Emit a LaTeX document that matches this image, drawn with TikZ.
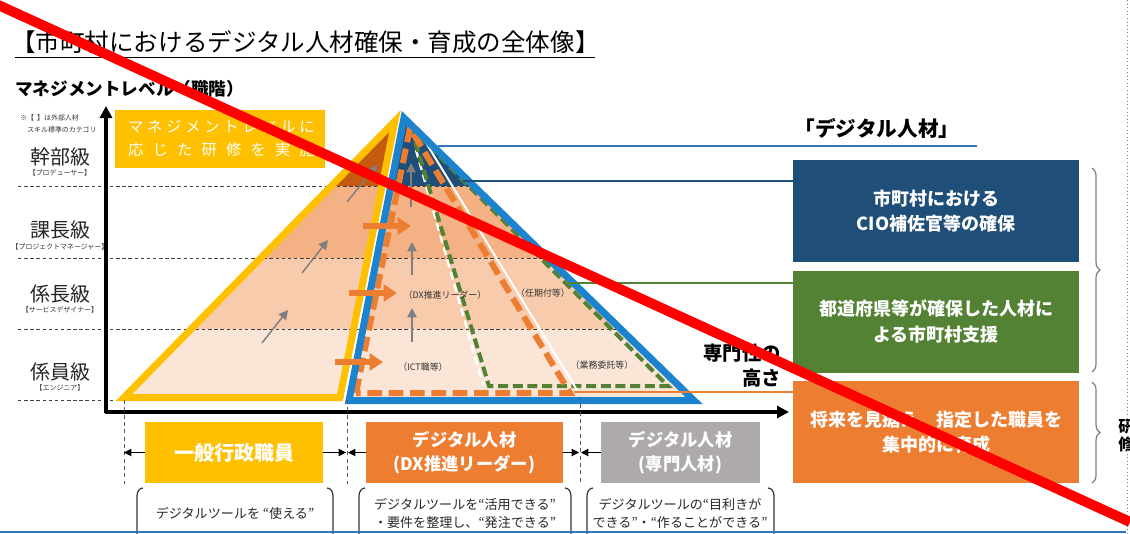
\documentclass[tikz,border=0pt]{standalone}
\usepackage{fontspec}
\setmainfont{Noto Sans CJK JP}
\usetikzlibrary{arrows.meta,decorations.pathreplacing}
\definecolor{cyel}{HTML}{FFC000}
\definecolor{corg}{HTML}{ED7D31}
\definecolor{cnavy}{HTML}{1F4E79}
\definecolor{cgreen}{HTML}{548235}
\definecolor{cgray}{HTML}{AEAAAA}
\definecolor{cblue}{HTML}{1C84CF}
\definecolor{cline}{HTML}{2E75B6}
\definecolor{cdark}{HTML}{C55A11}
\definecolor{cbandA}{HTML}{F4B183}
\definecolor{cbandB}{HTML}{F8CBAD}
\definecolor{cbandC}{HTML}{FBE5D6}
\definecolor{garr}{HTML}{7F7F7F}
\begin{document}
\begin{tikzpicture}[x=0.75pt,y=-0.75pt,
  lvl/.style={font=\fontsize{15}{18}\selectfont, text=black!85, inner sep=0pt},
  sublbl/.style={font=\fontsize{5.2}{6}\selectfont, text=black!80, inner sep=0pt},
  lvlline/.style={draw=black!75, dash pattern=on 2.6pt off 2pt, line width=0.6pt},
  vdash/.style={draw=black!65, dash pattern=on 3pt off 2.5pt, line width=0.6pt},
  garrow/.style={draw=garr, line width=1.1pt, -{Triangle[length=7pt,width=7pt]}},
  oarrow/.style={draw=corg, line width=4.5pt, -{Triangle[length=10pt,width=12.5pt]}},
  rbox/.style={minimum width=214.5pt, minimum height=76.5pt, text=white, font=\bfseries\fontsize{13.5}{19}\selectfont, align=center, inner sep=0pt},
  bbox/.style={minimum height=45.75pt, text=white, font=\bfseries\fontsize{13}{18}\selectfont, align=center, inner sep=0pt},
  desc/.style={font=\fontsize{9.8}{13}\selectfont, text=black!85, align=center, inner sep=0pt},
  brk/.style={draw=black!80, line width=0.9pt},
  plbl/.style={font=\fontsize{6.7}{8}\selectfont, text=black!80, inner sep=0pt},
  tri/.style={draw=black, line width=0.75pt, -{Triangle[length=5.5pt,width=5.5pt]}},
  conn/.style={line width=1.5pt}
]
\useasboundingbox (0,0) rectangle (1130,533);

% ---------- title ----------
\node[anchor=west, inner sep=0pt, font=\fontsize{18.4}{21}\selectfont] (title) at (11,42) {【市町村におけるデジタル人材確保・育成の全体像】};
\draw[black, line width=0.7pt] (15,57.5) -- (595,57.5);
\node[anchor=west, inner sep=0pt, font=\bfseries\fontsize{13.2}{15}\selectfont] (mlevel) at (15,89) {マネジメントレベル（職階）};
\node[anchor=west, sublbl] (note1) at (20,118) {※【\ \ 】は外部人材};
\node[anchor=west, sublbl] (note2) at (27,129.5) {スキル標準のカテゴリ};

% ---------- level labels ----------
\node[lvl] (l1) at (60,157) {幹部級};
\node[sublbl] (l1s) at (60,173) {【プロデューサー】};
\node[lvl] (l2) at (60,230) {課長級};
\node[sublbl] (l2s) at (60,246.5) {【プロジェクトマネージャー】};
\node[lvl] (l3) at (60,294) {係長級};
\node[sublbl] (l3s) at (60,310) {【サービスデザイナー】};
\node[lvl] (l4) at (60,372) {係員級};
\node[sublbl] (l4s) at (60,388) {【エンジニア】};

% ---------- pyramid coordinates ----------
\coordinate (yL) at (124,397.5);
\coordinate (yA) at (395,121);
\coordinate (yR) at (340,397.5);
\coordinate (bL) at (349,400.5);
\coordinate (bA) at (404,118);
\coordinate (bR) at (694,400.5);

% fills
\begin{scope}
\clip (yL) -- (yA) -- (yR) -- cycle;
\fill[cdark] (0,100) rectangle (800,186);
\fill[cbandA] (0,186) rectangle (800,258);
\fill[cbandB] (0,258) rectangle (800,329);
\fill[cbandC] (0,329) rectangle (800,410);
\end{scope}
\begin{scope}
\clip (bL) -- (bA) -- (bR) -- cycle;
\fill[cnavy] (0,100) rectangle (800,186);
\fill[cbandA] (0,186) rectangle (800,258);
\fill[cbandB] (0,258) rectangle (800,329);
\fill[cbandC] (0,329) rectangle (800,410);
\end{scope}

% level dashed lines
\draw[lvlline] (18,186) -- (472,186);
\draw[lvlline] (18,258) -- (546,258);
\draw[lvlline] (18,329) -- (618,329);
\draw[lvlline] (18,400) -- (118,400);

% gray arrows
\draw[garrow] (262,343) -- (288,310);
\draw[garrow] (302,273) -- (328,240);
\draw[garrow] (347,202) -- (377,165);
\draw[garrow] (412,342) -- (412,308);
\draw[garrow] (412,275) -- (412,242);
\draw[garrow] (411,207) -- (411,163);

% inner dashed shapes
\draw[white, line width=1.9pt, dash pattern=on 6pt off 3.5pt] (416,150) -- (483,385);
\draw[cgreen, line width=3pt, dash pattern=on 7.5pt off 3.5pt, line join=miter] (411,128) -- (489,386) -- (668,386) -- cycle;
\draw[white, line width=1.5pt] (420,133) -- (577,390);
\draw[corg, line width=4.5pt, dash pattern=on 11pt off 5pt, line join=miter] (356,393) -- (410,128) -- (570,393) -- cycle;

% outer triangles
\draw[cyel, line width=5.25pt, line join=miter] (yL) -- (yA) -- (yR) -- cycle;
\draw[cblue, line width=5.25pt, line join=miter] (bL) -- (bA) -- (bR) -- cycle;

% orange arrows
\draw[oarrow] (335,362) -- (383,362);
\draw[oarrow] (349,293) -- (397,293);
\draw[oarrow] (363,226) -- (411,226);

% pyramid labels
\node[plbl] (pDX) at (445,295) {（DX推進リーダー）};
\node[plbl] (pNin) at (543,293) {（任期付等）};
\node[plbl] (pICT) at (423,367) {（ICT職等）};
\node[plbl] (pGyo) at (602,365) {（業務委託等）};

% ---------- axes ----------
\draw[black, line width=2.3pt, -{Triangle[length=9pt,width=9pt]}] (106,413) -- (106,106);
\draw[black, line width=2.3pt, -{Triangle[length=9pt,width=9pt]}] (105,412) -- (789,412);

% ---------- top-left yellow box ----------
\node[fill=cyel, minimum width=157.5pt, minimum height=43.5pt, inner sep=0pt] (ybanner) at (220,139) {};
\node[text=white, inner sep=0pt, font=\fontsize{11.5}{14}\selectfont] (ybt1) at (221.5,127) {\hbox to 140pt{マ\hfill ネ\hfill ジ\hfill メ\hfill ン\hfill ト\hfill レ\hfill ベ\hfill ル\hfill に}};
\node[text=white, inner sep=0pt, font=\fontsize{11.5}{14}\selectfont] (ybt2) at (221.5,150) {\hbox to 140pt{応\hfill じ\hfill た\hfill 研\hfill 修\hfill を\hfill 実\hfill 施}};

% ---------- right side ----------
\node[font=\bfseries\fontsize{15.5}{18}\selectfont, inner sep=0pt] (dtitle) at (877,128) {「デジタル人材」};
\node[rbox, fill=cnavy] (nvbox) at (936,211) {市町村における\\CIO補佐官等の確保};
\node[rbox, fill=cgreen] (grbox) at (936,321.5) {都道府県等が確保した人材に\\よる市町村支援};
\node[rbox, fill=corg] (orbox) at (936,432) {将来を見据え、指定した職員を\\集中的に育成};

\coordinate (blA) at (438,145.5);
\coordinate (blB) at (977,145.5);
\coordinate (nvA) at (463,180.5);
\coordinate (grA) at (568,283);
\coordinate (orA) at (574,392);
\draw[cline, conn] (blA) -- (blB);
\draw[cnavy, conn] (nvA) -- (nvA -| nvbox.west);
\draw[cgreen, conn] (grA) -- (grA -| grbox.west);
\draw[corg, line width=1.2pt] (orA) -- (orA -| orbox.west);

\node[anchor=east, align=right, inner sep=0pt, font=\bfseries\fontsize{14.5}{18.75}\selectfont] (senmon) at (781,366) {専門性の\\高さ};

% braces
\draw[garr, line width=0.9pt, decorate, decoration={brace, amplitude=6pt}] (1092,168) -- (1092,372);
\draw[garr, line width=0.9pt, decorate, decoration={brace, amplitude=6pt}] (1092,382) -- (1092,483);
\node[anchor=west, align=left, inner sep=0pt, font=\bfseries\fontsize{12}{13.5}\selectfont] (cut) at (1118,436) {研\\修};

% ---------- bottom category boxes ----------
\node[bbox, fill=cyel, minimum width=133.5pt, font=\bfseries\fontsize{15}{18}\selectfont] (ybox) at (234,452.5) {一般行政職員};
\node[bbox, fill=corg, minimum width=147.75pt] (obox) at (464.5,452.5) {デジタル人材\\(DX推進リーダー)};
\node[bbox, fill=cgray, minimum width=119.25pt] (gbox) at (680.5,452.5) {デジタル人材\\(専門人材)};

\draw[vdash] (124,400) -- (124,484);
\draw[vdash] (347,400) -- (347,484);
\draw[vdash] (580,397) -- (580,484);
\coordinate (d1) at (124,452.5);
\coordinate (d2l) at (346,452.5);
\coordinate (d2r) at (348,452.5);
\coordinate (d3l) at (579,452.5);
\coordinate (d3r) at (581,452.5);
\draw[tri] (ybox.west) -- (d1);
\draw[tri] (ybox.east) -- (d2l);
\draw[tri] (obox.west) -- (d2r);
\draw[tri] (obox.east) -- (d3l);
\draw[tri] (gbox.west) -- (d3r);

% description brackets
\draw[brk] (143,488) to[out=180,in=90] (137,496) -- (137,540);
\draw[brk] (327,488) to[out=0,in=90] (333,496) -- (333,540);
\draw[brk] (365,488) to[out=180,in=90] (359,496) -- (359,540);
\draw[brk] (565,488) to[out=0,in=90] (571,496) -- (571,540);
\draw[brk] (593,488) to[out=180,in=90] (587,496) -- (587,540);
\draw[brk] (768,488) to[out=0,in=90] (774,496) -- (774,540);
\node[desc] (dsc1) at (235,513) {デジタルツールを “使える”};
\node[desc] (dsc2) at (465,513.5) {デジタルツールを“活用できる”\\・要件を整理し、“発注できる”};
\node[desc] (dsc3) at (680,513.5) {デジタルツールの“目利きが\\できる”・“作ることができる”};

% frame lines
\draw[black!50, dotted, line width=0.7pt] (1127.5,0) -- (1127.5,533);
\draw[cline, line width=1.3pt] (0,531.8) -- (1126,531.8);

% red cross line
\draw[red, line width=7.5pt] (-5,3.5) -- (1130,522);
\end{tikzpicture}
\end{document}
